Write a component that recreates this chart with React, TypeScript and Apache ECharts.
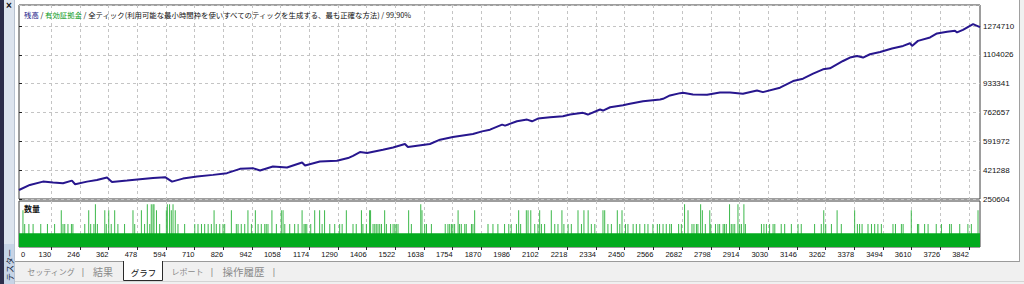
import React, { useEffect, useRef } from "react";
import * as echarts from "echarts";

// ---------- data ----------
const TRADE_COUNT = 3887;
const Y_TICK_LABELS = ["250604", "421288", "591972", "762657", "933341", "1104026", "1274710"];
const Y_AXIS_MAX = 1399745;
const X_TICK_VALUES = [
  130, 246, 362, 478, 594, 710, 826, 942, 1058, 1174, 1290, 1406, 1522, 1638, 1754, 1870, 1986,
  2102, 2218, 2334, 2450, 2566, 2682, 2798, 2914, 3030, 3146, 3262, 3378, 3494, 3610, 3726, 3842,
];
const X_FIRST_LABEL = [0];

const BALANCE_TRADES = [
  0, 44, 97, 138, 178, 214, 227, 275, 315, 356,
  376, 437, 489, 542, 591, 619, 663, 720, 785, 841,
  894, 946, 975, 1027, 1084, 1145, 1157, 1217, 1286, 1331,
  1351, 1379, 1408, 1472, 1513, 1561, 1573, 1662, 1703, 1755,
  1836, 1873, 1905, 1954, 1966, 2014, 2055, 2075, 2099, 2148,
  2200, 2229, 2281, 2301, 2350, 2362, 2391, 2443, 2471, 2524,
  2593, 2605, 2633, 2674, 2686, 2726, 2783, 2835, 2876, 2928,
  2985, 3009, 3078, 3131, 3171, 3212, 3252, 3280, 3333, 3361,
  3390, 3414, 3442, 3483, 3531, 3576, 3604, 3612, 3636, 3685,
  3713, 3754, 3786, 3794, 3818, 3859, 3875, 3887,
];
const BALANCE_VALUES = [
  304000, 334000, 353600, 347700, 344100, 359600, 338100, 353600, 363700, 377400,
  351800, 359600, 367900, 375600, 379800, 353600, 371500, 383400, 393500, 403600,
  429200, 433400, 419100, 442900, 437000, 466700, 448900, 472700, 476900, 492900,
  506600, 528700, 522700, 542400, 556100, 576300, 558400, 576300, 601900, 618000,
  635800, 651300, 661400, 691200, 685300, 710900, 721000, 710900, 726900, 734700,
  740600, 750800, 760900, 750800, 780500, 774600, 794200, 806100, 814500, 829900,
  840100, 844200, 863900, 877600, 880000, 869800, 868000, 881700, 881700, 874000,
  893700, 883500, 909700, 949000, 963300, 993100, 1018700, 1024600, 1068100, 1088400,
  1097900, 1088400, 1108000, 1121700, 1141900, 1157400, 1173500, 1157400, 1187200, 1207400,
  1231200, 1240800, 1246700, 1237200, 1252700, 1286600, 1276500, 1268800,
];

const VOLUME_MAX = 1.0;
const BASE_LOT = 0.3;
const LOW_LOT = 0.5;
const MID_LOT = 0.8;
const TALL_LOT = 0.93;
const LOW_SPIKE_TRADES = [
  23, 40, 57, 88, 115, 144, 178, 185, 198, 212, 218, 266, 290, 303, 317, 353, 373, 400, 427, 468,
  508, 529, 569, 643, 670, 711, 724, 738, 751, 765, 778, 798, 812, 825, 832, 879, 886, 899, 913, 940,
  967, 980, 994, 1000, 1007, 1041, 1075, 1095, 1115, 1129, 1153, 1158, 1164, 1180, 1226, 1257, 1277,
  1297, 1307, 1351, 1364, 1391, 1405, 1432, 1439, 1445, 1452, 1459, 1466, 1486, 1503, 1513, 1520,
  1526, 1533, 1587, 1641, 1648, 1668, 1724, 1735, 1742, 1749, 1755, 1762, 1782, 1789, 1803, 1809,
  1830, 1836, 1897, 1917, 1937, 1964, 1981, 1991, 2012, 2029, 2086, 2099, 2113, 2126, 2167, 2180,
  2204, 2221, 2234, 2275, 2315, 2329, 2382, 2396, 2430, 2453, 2463, 2484, 2497, 2511, 2531, 2544,
  2564, 2582, 2591, 2605, 2618, 2632, 2639, 2668, 2679, 2722, 2730, 2740, 2746, 2776, 2798, 2817,
  2827, 2834, 2848, 2854, 2861, 2881, 2888, 2895, 2915, 2922, 2938, 3003, 3013, 3023, 3036, 3050,
  3057, 3083, 3097, 3124, 3151, 3164, 3218, 3245, 3263, 3286, 3326, 3391, 3400, 3410, 3434, 3448,
  3461, 3474, 3488, 3535, 3545, 3569, 3576, 3634, 3639, 3663, 3677, 3710, 3731, 3764, 3771, 3805,
  3838, 3852,
];
const MID_SPIKE_TRADES = [
  16, 171, 282, 347, 363, 387, 461, 495, 556, 596, 616, 632, 789, 859, 926, 956, 1023, 1061, 1068,
  1145, 1196, 1216, 1236, 1324, 1385, 1418, 1422, 1479, 1576, 1630, 1776, 1843, 2021, 2052, 2059,
  2070, 2106, 2153, 2196, 2261, 2285, 2302, 2362, 2369, 2420, 2439, 2706, 2764, 2794, 3255, 3309,
  3380, 3609, 3879,
];
const TALL_SPIKE_TRADES = [309, 519, 535, 542, 546, 600, 609, 623, 1625, 2692, 2757, 2874, 2908, 2932];

// ---------- layout / style ----------
const W = 1024;
const H = 284;
const CHART_LEFT = 19;
const CHART_RIGHT_EDGE = 980;
const MAIN_TOP = 5;
const MAIN_BOTTOM = 199;
const VOL_TOP = 201;
const VOL_BOTTOM = 247;
const NUM_FONT = "'Liberation Sans', Arial, sans-serif";
const JP_FONT = "'Noto Sans CJK JP', sans-serif";
const GRID_LINE = { type: [3, 3] as any, color: "#c4c4c4", width: 1 };
const plain = (v: number) => String(v);

export default function App() {
  const ref = useRef<HTMLDivElement>(null);

  useEffect(() => {
    if (!ref.current) return;
    const chart = echarts.init(ref.current, undefined, { renderer: "svg" });

    const yMin = Number(Y_TICK_LABELS[0]);
    const yInterval = (Number(Y_TICK_LABELS[Y_TICK_LABELS.length - 1]) - yMin) / (Y_TICK_LABELS.length - 1);

    const balanceData = BALANCE_TRADES.map((t, i) => [t, BALANCE_VALUES[i]]);
    const spikeData = [
      ...LOW_SPIKE_TRADES.map((t) => [t, LOW_LOT]),
      ...MID_SPIKE_TRADES.map((t) => [t, MID_LOT]),
      ...TALL_SPIKE_TRADES.map((t) => [t, TALL_LOT]),
    ];

    const rightGap = W - CHART_RIGHT_EDGE;

    const option: any = {
      animation: false,
      backgroundColor: "#ffffff",
      grid: [
        {
          left: CHART_LEFT,
          right: rightGap,
          top: MAIN_TOP,
          height: MAIN_BOTTOM - MAIN_TOP,
          show: true,
          backgroundColor: "#ffffff",
          borderColor: "#3c3c3c",
          borderWidth: 1,
        },
        {
          left: CHART_LEFT,
          right: rightGap,
          top: VOL_TOP,
          height: VOL_BOTTOM - VOL_TOP,
          show: true,
          backgroundColor: "#ffffff",
          borderColor: "#3c3c3c",
          borderWidth: 1,
        },
      ],
      xAxis: [
        {
          type: "value",
          gridIndex: 0,
          position: "bottom",
          min: 0,
          max: TRADE_COUNT,
          axisLine: { show: false },
          axisTick: { show: false, customValues: X_TICK_VALUES },
          axisLabel: { show: false },
          splitLine: { show: true, lineStyle: GRID_LINE },
        },
        {
          type: "value",
          gridIndex: 1,
          position: "bottom",
          offset: 0,
          min: 0,
          max: TRADE_COUNT,
          axisLine: { show: false },
          axisTick: { show: true, length: 3, customValues: X_TICK_VALUES, lineStyle: { color: "#222" } },
          axisLabel: {
            customValues: X_TICK_VALUES,
            formatter: plain,
            align: "right",
            margin: 3,
            fontSize: 7.5,
            fontFamily: NUM_FONT,
            color: "#111",
          },
          splitLine: { show: true, lineStyle: GRID_LINE },
        },
        {
          type: "value",
          gridIndex: 1,
          position: "bottom",
          offset: 0,
          min: 0,
          max: TRADE_COUNT,
          axisLine: { show: false },
          axisTick: { show: false },
          axisLabel: {
            customValues: X_FIRST_LABEL,
            formatter: plain,
            align: "left",
            margin: 3,
            fontSize: 7.5,
            fontFamily: NUM_FONT,
            color: "#111",
            padding: [0, 0, 0, 2],
          },
          splitLine: { show: false },
        },
      ],
      yAxis: [
        {
          type: "value",
          gridIndex: 0,
          position: "right",
          min: yMin,
          max: Y_AXIS_MAX,
          interval: yInterval,
          axisLine: { show: false },
          axisTick: { show: true, length: 3, lineStyle: { color: "#222" } },
          axisLabel: {
            margin: 3,
            fontSize: 8,
            fontFamily: NUM_FONT,
            color: "#111",
            showMaxLabel: false,
            formatter: (v: number) => {
              const r = (v - yMin) / yInterval;
              const i = Math.round(r);
              if (Math.abs(r - i) > 1e-4 || i < 0 || i >= Y_TICK_LABELS.length) return "";
              return Y_TICK_LABELS[i];
            },
          },
          splitLine: { show: true, lineStyle: GRID_LINE },
        },
        {
          type: "value",
          gridIndex: 1,
          min: 0,
          max: VOLUME_MAX,
          show: false,
          splitLine: { show: false },
        },
      ],
      series: [
        {
          name: "base volume",
          type: "line",
          xAxisIndex: 1,
          yAxisIndex: 1,
          data: [
            [0, BASE_LOT],
            [TRADE_COUNT, BASE_LOT],
          ],
          showSymbol: false,
          lineStyle: { width: 0 },
          areaStyle: { color: "#03ab1e", opacity: 1 },
          silent: true,
        },
        {
          name: "volume",
          type: "bar",
          xAxisIndex: 1,
          yAxisIndex: 1,
          data: spikeData,
          barWidth: 1,
          itemStyle: { color: "#3cb84a" },
          silent: true,
        },
        {
          name: "残高",
          type: "line",
          xAxisIndex: 0,
          yAxisIndex: 0,
          data: balanceData,
          showSymbol: false,
          lineStyle: { color: "#27168e", width: 2 },
          silent: true,
        },
      ],
      graphic: [
        // left desktop strip and tester side panel
        { type: "rect", shape: { x: 0, y: 0, width: 4, height: H }, style: { fill: "#2c2d4a" }, z: 0 },
        { type: "rect", shape: { x: 4, y: 0, width: 10, height: H }, style: { fill: "#dde4ee" }, z: 0 },
        { type: "line", shape: { x1: 14.5, y1: 0, x2: 14.5, y2: H }, style: { stroke: "#b8c2d0", lineWidth: 1 }, z: 0 },
        { type: "rect", shape: { x: 4, y: 244, width: 10, height: 40 }, style: { fill: "#c7d4e6" }, z: 1 },
        {
          type: "text",
          x: 9,
          y: 265,
          rotation: Math.PI / 2,
          style: { text: "テスター", fontSize: 8, fontFamily: JP_FONT, fill: "#1b2a44", align: "center", verticalAlign: "middle" },
          z: 2,
        },
        {
          type: "text",
          x: 9,
          y: 5,
          style: { text: "×", fontSize: 10, fontWeight: "bold", fontFamily: NUM_FONT, fill: "#111", align: "center", verticalAlign: "middle" },
          z: 2,
        },
        // right window frame
        { type: "rect", shape: { x: 1019, y: 0, width: 5, height: H }, style: { fill: "#f0f0f0" }, z: 0 },
        { type: "line", shape: { x1: 1019.5, y1: 0, x2: 1019.5, y2: 262 }, style: { stroke: "#a0a0a0", lineWidth: 1 }, z: 0 },
        // bottom tab strip
        { type: "rect", shape: { x: 15, y: 262, width: 1004, height: 22 }, style: { fill: "#f0f0f0" }, z: 0 },
        { type: "line", shape: { x1: 15, y1: 261.5, x2: 1019, y2: 261.5 }, style: { stroke: "#9a9a9a", lineWidth: 1 }, z: 1 },
        { type: "line", shape: { x1: 15, y1: 281.5, x2: 1024, y2: 281.5 }, style: { stroke: "#d4d4d4", lineWidth: 1 }, z: 1 },
        { type: "rect", shape: { x: 123, y: 261, width: 40, height: 20 }, style: { fill: "#ffffff" }, z: 2 },
        {
          type: "polyline",
          shape: { points: [[123.5, 261], [123.5, 280.5], [162.5, 280.5], [162.5, 261]] },
          style: { stroke: "#2a2a2a", lineWidth: 1, fill: "none" },
          z: 3,
        },
        { type: "text", x: 51, y: 271.5, style: { text: "セッティング", fontSize: 8, fontFamily: JP_FONT, fill: "#8a8a8a", align: "center", verticalAlign: "middle" }, z: 3 },
        { type: "text", x: 83, y: 271.5, style: { text: "|", fontSize: 9, fontFamily: NUM_FONT, fill: "#8a8a8a", align: "center", verticalAlign: "middle" }, z: 3 },
        { type: "text", x: 103, y: 271.5, style: { text: "結果", fontSize: 10, fontFamily: JP_FONT, fill: "#8a8a8a", align: "center", verticalAlign: "middle" }, z: 3 },
        { type: "text", x: 143.5, y: 271.5, style: { text: "グラフ", fontSize: 8.5, fontFamily: JP_FONT, fill: "#111", align: "center", verticalAlign: "middle" }, z: 3 },
        { type: "text", x: 187.5, y: 271.5, style: { text: "レポート", fontSize: 8, fontFamily: JP_FONT, fill: "#8a8a8a", align: "center", verticalAlign: "middle" }, z: 3 },
        { type: "text", x: 212, y: 271.5, style: { text: "|", fontSize: 9, fontFamily: NUM_FONT, fill: "#8a8a8a", align: "center", verticalAlign: "middle" }, z: 3 },
        { type: "text", x: 243.5, y: 271.5, style: { text: "操作履歴", fontSize: 10.5, fontFamily: JP_FONT, fill: "#8a8a8a", align: "center", verticalAlign: "middle" }, z: 3 },
        { type: "text", x: 274, y: 271.5, style: { text: "|", fontSize: 9, fontFamily: NUM_FONT, fill: "#8a8a8a", align: "center", verticalAlign: "middle" }, z: 3 },
        // chart titles
        {
          type: "text",
          x: 24,
          y: 14.5,
          style: {
            text: "{a|残高} / {b|有効証拠金} / 全ティック(利用可能な最小時間枠を使いすべてのティックを生成する、最も正確な方法) / 99.90%",
            fontSize: 7.4,
            fontFamily: JP_FONT,
            fill: "#111",
            verticalAlign: "middle",
            rich: {
              a: { fill: "#1c1a8a", fontSize: 7.4, fontFamily: JP_FONT },
              b: { fill: "#0a9a1a", fontSize: 7.4, fontFamily: JP_FONT },
            },
          },
          z: 10,
        },
        {
          type: "text",
          x: 24,
          y: 208.5,
          style: { text: "数量", fontSize: 8, fontWeight: "bold", fontFamily: JP_FONT, fill: "#111", verticalAlign: "middle" },
          z: 10,
        },
      ],
    };

    chart.setOption(option);
    return () => chart.dispose();
  }, []);

  return (
    <div
      ref={ref}
      style={{ position: "fixed", left: 0, top: 0, width: W, height: H, background: "#ffffff" }}
    />
  );
}
